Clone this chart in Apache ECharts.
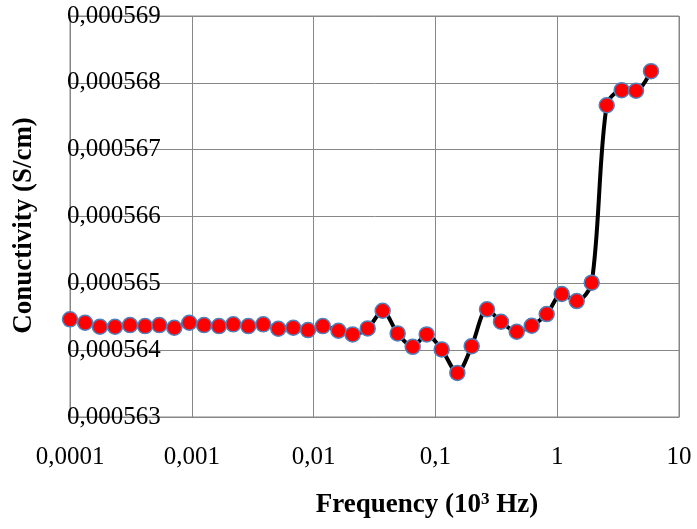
<!DOCTYPE html>
<html>
<head>
<meta charset="utf-8">
<script src="https://cdn.jsdelivr.net/npm/echarts@6/dist/echarts.min.js"></script>
<style>
  html, body { margin: 0; padding: 0; background: #ffffff; }
  #chart { width: 697px; height: 529px; }
</style>
</head>
<body>
<div id="chart"></div>
<script>
// Frequency in kHz (10^3 Hz)
const frequency = [
  0.0001, 0.000133, 0.000176, 0.000234, 0.000311, 0.000413, 0.000541, 0.000718,
  0.000954, 0.00126, 0.00167, 0.00219, 0.00291, 0.00386, 0.00513, 0.00681,
  0.0090, 0.0119, 0.0160, 0.0209, 0.0278, 0.0369, 0.0490, 0.0651,
  0.0848, 0.1126, 0.1514, 0.1986, 0.2652, 0.3456, 0.4651, 0.6175,
  0.820, 1.089, 1.446, 1.920, 2.549, 3.385, 4.436, 5.89
];

// Conductivity in S/cm
const conductivity = [
  0.000564461, 0.000564410, 0.000564350, 0.000564350, 0.000564375, 0.000564360, 0.000564375, 0.000564335,
  0.000564410, 0.000564375, 0.000564360, 0.000564386, 0.000564360, 0.000564386, 0.000564320, 0.000564335,
  0.000564300, 0.000564360, 0.000564290, 0.000564236, 0.000564326, 0.000564590, 0.000564251, 0.000564050,
  0.000564236, 0.000564011, 0.000563660, 0.000564060, 0.000564611, 0.000564425, 0.000564275, 0.000564365,
  0.000564540, 0.000564840, 0.000564735, 0.000565010, 0.000567665, 0.000567890, 0.000567881, 0.000568175
];

const xTickLabels = ['0,0001', '0,001', '0,01', '0,1', '1', '10'];
const yMin = 0.000563;
const yMax = 0.000569;
const yStep = 0.000001;

const serif = 'Liberation Serif, Times New Roman, serif';
const gridColor = '#878787';

const chart = echarts.init(document.getElementById('chart'), null, { renderer: 'canvas' });

chart.setOption({
  animation: false,
  backgroundColor: '#ffffff',
  grid: {
    left: 70, top: 16, width: 609, height: 401,
    show: true, borderColor: gridColor, borderWidth: 1
  },
  xAxis: {
    type: 'log',
    logBase: 10,
    min: 0.0001,
    max: 10,
    axisLine: { show: true, lineStyle: { color: gridColor, width: 1 } },
    axisTick: { show: false },
    splitLine: { show: true, lineStyle: { color: gridColor, width: 1 } },
    axisLabel: {
      color: '#000',
      fontFamily: serif,
      fontSize: 25,
      margin: 28,
      formatter: function (v) {
        const i = Math.round(Math.log10(v)) + 4;
        return xTickLabels[i] !== undefined ? xTickLabels[i] : '';
      }
    }
  },
  yAxis: {
    type: 'value',
    min: yMin,
    max: yMax,
    interval: yStep,
    axisLine: { show: true, lineStyle: { color: gridColor, width: 1 } },
    axisTick: { show: false },
    splitLine: { show: true, lineStyle: { color: gridColor, width: 1 } },
    axisLabel: {
      color: '#000',
      fontFamily: serif,
      fontSize: 25,
      align: 'left',
      margin: 3,
      formatter: function (v) {
        return v.toFixed(6).replace('.', ',');
      }
    }
  },
  title: {
    text: 'Frequency (10{sup|3} Hz)',
    left: 422,
    top: 486,
    textAlign: 'center',
    textStyle: {
      fontFamily: serif,
      fontSize: 27,
      fontWeight: 'bold',
      color: '#000',
      rich: {
        sup: {
          fontFamily: serif,
          fontSize: 17,
          fontWeight: 'bold',
          color: '#000',
          verticalAlign: 'top',
          padding: [0, 0, 12, 0]
        }
      }
    }
  },
  graphic: [{
    type: 'text',
    x: 24.5,
    y: 225.5,
    rotation: Math.PI / 2,
    style: {
      text: 'Conuctivity (S/cm)',
      font: 'bold 27px ' + serif,
      fill: '#000',
      textAlign: 'center',
      textVerticalAlign: 'middle'
    }
  }],
  series: [{
    type: 'line',
    data: frequency.map((f, i) => [f, conductivity[i]]),
    smooth: 0.3,
    lineStyle: { color: '#000', width: 4 },
    symbol: 'circle',
    symbolSize: 15,
    itemStyle: { color: '#ff0000', borderColor: '#4f81bd', borderWidth: 1.5 },
    z: 3
  }]
});
</script>
</body>
</html>
